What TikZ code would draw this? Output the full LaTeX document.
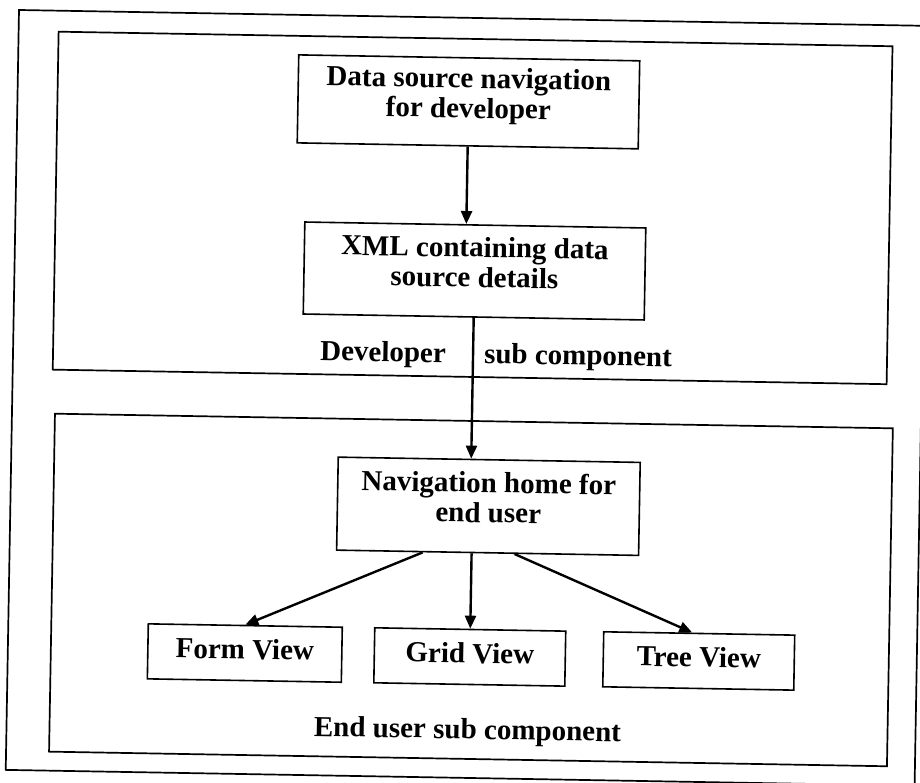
\documentclass[tikz,border=0pt]{standalone}
\usepackage{fontspec}
\setmainfont{Liberation Serif}
\usetikzlibrary{arrows.meta,calc}

\begin{document}
\begin{tikzpicture}[x=1pt,y=-1pt,
  frame/.style={draw=black, line width=1.7pt},
  box/.style={draw=black, line width=1.6pt, align=center, inner sep=0pt,
    font=\bfseries\fontsize{29}{30}\selectfont},
  twoline/.style={box, text depth=18pt},
  oneline/.style={box, text height=20pt, text depth=8pt, minimum height=55pt},
  lbl/.style={font=\bfseries\fontsize{29}{30}\selectfont, inner sep=0pt, anchor=base},
  link/.style={line width=2.4pt, -{Triangle[length=13pt,width=11pt]}}]
\fill[white] (0,0) rectangle (920,783);
\useasboundingbox (0,0) rectangle (920,783);
\clip (0,0) rectangle (920,783);
\begin{scope}[rotate around={-1:(19,10)}, transform shape]
  % page frame and the two component panels
  \draw[frame] (19,10) rectangle (928,770);
  \draw[frame] (59,31) rectangle (893,369);
  \draw[frame] (62,413) rectangle (900,751);

  % developer sub component
  \node[twoline, minimum width=341pt, minimum height=88pt] (src) at (470,94)
    {Data source navigation\\for developer};
  \node[twoline, minimum width=341pt, minimum height=92pt] (xml) at (479,263)
    {XML containing data\\source details};
  \node[lbl] (dev) at (389,355) {Developer};
  \node[lbl] (subc) at (584,355) {sub component};

  % end user sub component
  \node[twoline, minimum width=302pt, minimum height=93pt] (nav) at (497,498)
    {Navigation home for\\end user};
  \node[oneline, minimum width=194pt] (form) at (256,649) {Form View};
  \node[oneline, minimum width=191pt] (grid) at (481,649) {Grid View};
  \node[oneline, minimum width=191pt] (tree) at (710,649) {Tree View};
  \node[lbl] (endu) at (480,731) {End user sub component};

  % connectors
  \draw[link] (src.south) -- (src.south |- xml.north);
  \draw[link] (xml.south) -- (xml.south |- nav.north);
  \draw[link] ($(nav.south)+(-65,0)$) -- (form.north);
  \draw[link] (nav.south -| grid.north) -- (grid.north);
  \draw[link] ($(nav.south)+(27,0)$) -- ($(tree.north)+(-7,0)$);
\end{scope}
\end{tikzpicture}
\end{document}
